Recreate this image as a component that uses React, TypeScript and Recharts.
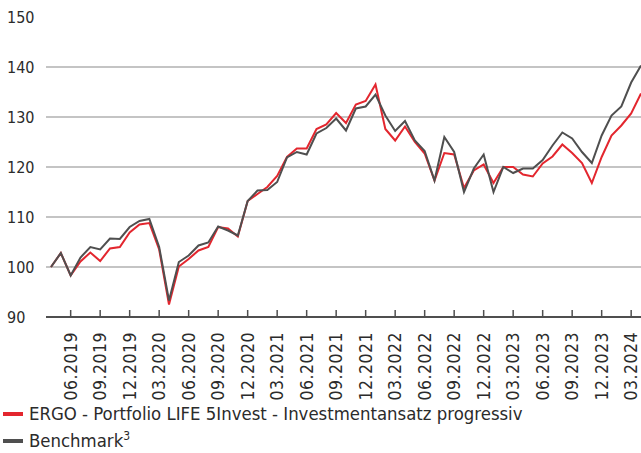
import React from "react";
import { LineChart, Line, XAxis, YAxis, ReferenceLine } from "recharts";

// monthly index values, 04.2019 = 100
const portfolio = [
  100, 102.8, 98.3, 101.1, 102.9, 101.2, 103.7, 104.0, 106.9, 108.5, 108.8, 103.5,
  92.5, 100.1, 101.6, 103.3, 104.0, 108.0, 107.7, 106.1, 113.2, 114.6, 116.0, 118.2,
  122.0, 123.7, 123.7, 127.6, 128.5, 130.8, 128.8, 132.5, 133.2, 136.5, 127.6, 125.3,
  128.1, 125.0, 122.7, 117.3, 122.8, 122.5, 115.8, 119.3, 120.5, 116.8, 120.0, 120.0,
  118.5, 118.1, 120.7, 122.1, 124.5, 122.8, 120.8, 116.8, 122.0, 126.3, 128.3, 130.7,
  134.7,
];
const benchmark = [
  100, 102.8, 98.3, 101.9, 104.0, 103.5, 105.7, 105.6, 108.0, 109.2, 109.6, 104.0,
  93.3, 101.0, 102.3, 104.3, 104.9, 108.1, 107.3, 106.3, 113.2, 115.3, 115.4, 117.0,
  121.9, 123.0, 122.5, 126.7, 127.8, 129.7, 127.3, 131.7, 132.1, 134.5, 130.3, 127.2,
  129.2, 125.3, 123.2, 117.3, 126.0, 123.0, 115.0, 119.7, 122.5, 115.0, 120.0, 118.8,
  119.7, 119.7, 121.4, 124.3, 126.9, 125.7, 123.0, 120.8, 126.3, 130.3, 132.1, 136.9,
  140.3,
];

const tickLabels = [
  "06.2019", "09.2019", "12.2019", "03.2020", "06.2020", "09.2020", "12.2020",
  "03.2021", "06.2021", "09.2021", "12.2021", "03.2022", "06.2022", "09.2022",
  "12.2022", "03.2023", "06.2023", "09.2023", "12.2023", "03.2024",
];
const yTicks = [90, 100, 110, 120, 130, 140, 150];
const gridValues = [100, 110, 120, 130, 140];

const seriesNames = [
  "ERGO - Portfolio LIFE 5Invest - Investmentansatz progressiv",
  "Benchmark",
];

const START_YEAR = 2019;
const START_MONTH = 4;

const months = portfolio.map((_, i) => {
  const m = ((START_MONTH - 1 + i) % 12) + 1;
  const y = START_YEAR + Math.floor((START_MONTH - 1 + i) / 12);
  return `${String(m).padStart(2, "0")}.${y}`;
});

const tickIdx = tickLabels.map((l) => months.indexOf(l));

const data = months.map((month, i) => ({
  idx: i,
  month,
  portfolio: portfolio[i],
  benchmark: benchmark[i],
}));

const RED = "#e3262e";
const GREY = "#4f4f4f";
const TEXT = "#2b2b2b";
const FONT = "'DejaVu Sans Condensed', 'DejaVu Sans', sans-serif";

const XTick = (props: any) => {
  const { x, y, payload } = props;
  return (
    <g>
      <line x1={x} x2={x} y1={y} y2={y - 7} stroke={GREY} strokeWidth={1.5} />
      <text
        transform={`translate(${x},${y + 15}) rotate(-90)`}
        textAnchor="end"
        dy="0.35em"
        fill={TEXT}
        fontSize={17.5}
        letterSpacing={0.5}
        fontFamily={FONT}
      >
        {months[payload.value]}
      </text>
    </g>
  );
};

const YTick = (props: any) => {
  const { y, payload } = props;
  return (
    <text x={7} y={y} dy="0.35em" textAnchor="start" fill={TEXT} fontSize={16} fontFamily={FONT}>
      {payload.value}
    </text>
  );
};

export default function App() {
  return (
    <div style={{ position: "absolute", left: 0, top: 0, width: 641, height: 453, background: "#fff" }}>
      <LineChart width={641} height={453} data={data} margin={{ top: 17, right: 0, left: 0, bottom: 0 }}>
        <XAxis
          type="number"
          dataKey="idx"
          domain={[0, 60]}
          ticks={tickIdx}
          interval={0}
          padding={{ left: 5, right: 0 }}
          height={136}
          tickSize={0}
          tickMargin={0}
          tickLine={false}
          axisLine={{ stroke: GREY, strokeWidth: 2 }}
          tick={<XTick />}
        />
        <YAxis
          type="number"
          domain={[90, 150]}
          ticks={yTicks}
          interval={0}
          width={46}
          axisLine={false}
          tickLine={false}
          tick={<YTick />}
        />
        {gridValues.map((v) => (
          <ReferenceLine key={v} y={v} stroke="#c4c4c4" strokeWidth={2} />
        ))}
        <Line
          type="linear"
          dataKey="portfolio"
          stroke={RED}
          strokeWidth={2}
          dot={false}
          isAnimationActive={false}
        />
        <Line
          type="linear"
          dataKey="benchmark"
          stroke={GREY}
          strokeWidth={2}
          dot={false}
          isAnimationActive={false}
        />
      </LineChart>
      <div style={{ position: "absolute", left: 0, top: 401, fontFamily: FONT, fontSize: 18.4, color: TEXT }}>
        <div style={{ display: "flex", alignItems: "center", height: 25 }}>
          <span style={{ display: "inline-block", width: 20, height: 4, background: RED, marginLeft: 3, marginRight: 6 }} />
          <span>{seriesNames[0]}</span>
        </div>
        <div style={{ display: "flex", alignItems: "center", height: 25, marginTop: 2 }}>
          <span style={{ display: "inline-block", width: 20, height: 4, background: GREY, marginLeft: 3, marginRight: 6 }} />
          <span>
            {seriesNames[1]}
            <sup style={{ fontSize: 12 }}>3</sup>
          </span>
        </div>
      </div>
    </div>
  );
}
